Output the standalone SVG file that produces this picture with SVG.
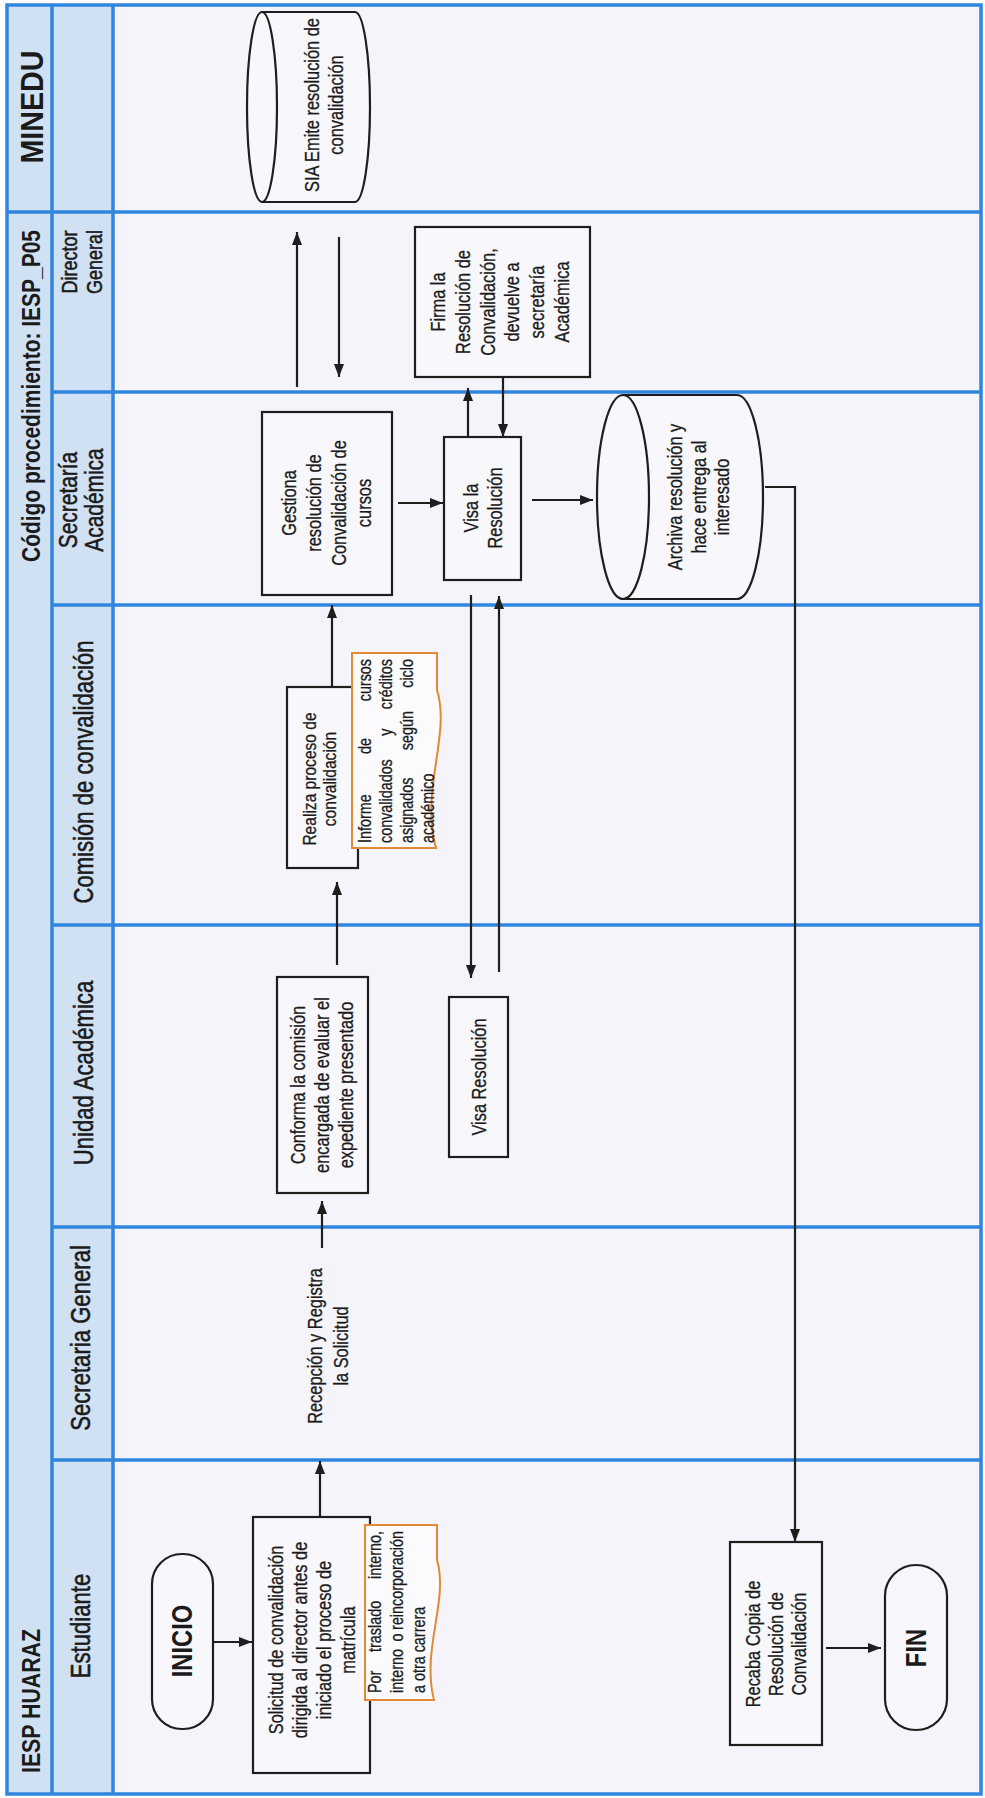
<svg xmlns="http://www.w3.org/2000/svg" width="985" height="1798" viewBox="0 0 985 1798">
<defs>
<marker id="ah" markerWidth="13" markerHeight="10" refX="13" refY="5" orient="auto" markerUnits="userSpaceOnUse">
<path d="M0,0 L13,5 L0,10 Z" fill="#1e1e1e"/>
</marker>
<style>
.t{font-family:'Liberation Sans',Arial,sans-serif;fill:#1b1b1b;text-anchor:middle;stroke:#1b1b1b;stroke-width:0.3}
.hd{stroke-width:0.55}
.n{font-size:20px}
.d{font-size:17.5px}
.b{font-weight:bold;stroke-width:0}
.box{fill:#f8f8fc;stroke:#1e1e1e;stroke-width:2.2}
.doc{fill:#fbfbfd;stroke:#e08a35;stroke-width:2}
.ln{fill:none;stroke:#1e1e1e;stroke-width:2.2}
.grid{fill:none;stroke:#2e86de;stroke-width:3.5}
</style>
</defs>
<rect x="0" y="0" width="985" height="1798" fill="#ffffff"/>
<g id="lanes">
<rect x="7" y="5" width="974" height="1789" fill="#f4f4fa"/>
<rect x="7" y="5" width="106" height="1789" fill="#d1e1f4"/>
<path class="grid" d="M7,212 H981 M52,392 H981 M52,605 H981 M52,925 H981 M52,1227 H981 M52,1460 H981 M52,5 V1794 M113,5 V1794"/>
<rect class="grid" x="7" y="5" width="974" height="1789"/>
<text class="t b" font-size="32" transform="rotate(-90)" x="-107" y="43" textLength="113" lengthAdjust="spacingAndGlyphs">MINEDU</text>
<text class="t b" font-size="26" transform="rotate(-90)" x="-396" y="40" textLength="332" lengthAdjust="spacingAndGlyphs">Código procedimiento: IESP_P05</text>
<text class="t b" font-size="26" transform="rotate(-90)" x="-1701" y="40" textLength="144" lengthAdjust="spacingAndGlyphs">IESP HUARAZ</text>
<text class="t hd" font-size="22" transform="translate(0,262) rotate(-90) scale(0.82,1)"><tspan x="0" y="77">Director</tspan><tspan x="0" y="102">General</tspan></text>
<text class="t hd" font-size="25.5" transform="translate(0,500) rotate(-90) scale(0.82,1)"><tspan x="0" y="77">Secretaría</tspan><tspan x="0" y="103">Académica</tspan></text>
<text class="t hd" font-size="27" transform="translate(0,772) rotate(-90) scale(0.82,1)" x="0" y="93">Comisión de convalidación</text>
<text class="t hd" font-size="27" transform="translate(0,1073) rotate(-90) scale(0.82,1)" x="0" y="93">Unidad Académica</text>
<text class="t hd" font-size="27" transform="translate(0,1338) rotate(-90) scale(0.82,1)" x="0" y="90">Secretaria General</text>
<text class="t hd" font-size="27" transform="translate(0,1626) rotate(-90) scale(0.82,1)" x="0" y="90">Estudiante</text>
</g>
<g id="connectors">
<line class="ln" x1="297" y1="387" x2="297" y2="232" marker-end="url(#ah)"/>
<line class="ln" x1="339" y1="237" x2="339" y2="377" marker-end="url(#ah)"/>
<line class="ln" x1="398" y1="503" x2="443" y2="503" marker-end="url(#ah)"/>
<line class="ln" x1="468" y1="437" x2="468" y2="388" marker-end="url(#ah)"/>
<line class="ln" x1="503" y1="377" x2="503" y2="437" marker-end="url(#ah)"/>
<line class="ln" x1="532" y1="500" x2="593" y2="500" marker-end="url(#ah)"/>
<polyline class="ln" points="765,487 795,487 795,1542" marker-end="url(#ah)"/>
<line class="ln" x1="332" y1="687" x2="332" y2="605" marker-end="url(#ah)"/>
<line class="ln" x1="471" y1="595" x2="471" y2="978" marker-end="url(#ah)"/>
<line class="ln" x1="499" y1="972" x2="499" y2="596" marker-end="url(#ah)"/>
<line class="ln" x1="337" y1="965" x2="337" y2="882" marker-end="url(#ah)"/>
<line class="ln" x1="322" y1="1248" x2="322" y2="1201" marker-end="url(#ah)"/>
<line class="ln" x1="320" y1="1517" x2="320" y2="1461" marker-end="url(#ah)"/>
<line class="ln" x1="213" y1="1642" x2="252" y2="1642" marker-end="url(#ah)"/>
<line class="ln" x1="826" y1="1648" x2="881" y2="1648" marker-end="url(#ah)"/>
</g>
<g id="sia">
<path class="box" d="M262,12 H355 A15,95 0 0 1 355,202 H262 Z"/>
<ellipse class="box" cx="262" cy="107" rx="15" ry="95"/>
<text class="t n" transform="translate(0,105) rotate(-90) scale(0.82,1)"><tspan x="0" y="319">SIA Emite resolución de</tspan><tspan x="0" y="343">convalidación</tspan></text>
</g>
<g id="firma">
<rect class="box" x="415" y="227" width="175" height="150"/>
<text class="t n" transform="translate(0,302) rotate(-90) scale(0.82,1)"><tspan x="0" y="445">Firma la</tspan><tspan x="0" y="470">Resolución de</tspan><tspan x="0" y="495">Convalidación,</tspan><tspan x="0" y="519">devuelve a</tspan><tspan x="0" y="544">secretaría</tspan><tspan x="0" y="569">Académica</tspan></text>
</g>
<g id="gestiona">
<rect class="box" x="262" y="412" width="130" height="183"/>
<text class="t n" transform="translate(0,503) rotate(-90) scale(0.82,1)"><tspan x="0" y="296">Gestiona</tspan><tspan x="0" y="321">resolución de</tspan><tspan x="0" y="346">Convalidación de</tspan><tspan x="0" y="371">cursos</tspan></text>
</g>
<g id="visa-sa">
<rect class="box" x="444" y="437" width="77" height="143"/>
<text class="t n" transform="translate(0,508) rotate(-90) scale(0.82,1)"><tspan x="0" y="478">Visa la</tspan><tspan x="0" y="502">Resolución</tspan></text>
</g>
<g id="archiva">
<path class="box" d="M623,395 H737 A26,102 0 0 1 737,599 H623 Z"/>
<ellipse class="box" cx="623" cy="497" rx="26" ry="102"/>
<text class="t n" transform="translate(0,497) rotate(-90) scale(0.82,1)"><tspan x="0" y="682">Archiva resolución y</tspan><tspan x="0" y="706">hace entrega al</tspan><tspan x="0" y="729">interesado</tspan></text>
</g>
<g id="realiza">
<rect class="box" x="287" y="687" width="71" height="181"/>
<text class="t" font-size="19" transform="translate(0,779) rotate(-90) scale(0.82,1)"><tspan x="0" y="316">Realiza proceso de</tspan><tspan x="0" y="336">convalidación</tspan></text>
</g>
<g id="informe">
<path class="doc" d="M352,653 H437 V690 C451,735 420,790 436,848 H352 Z"/>
<text class="t d" transform="translate(0,749) rotate(-90) scale(0.82,1)">
<tspan x="-114.6" y="371" text-anchor="start">Informe</tspan><tspan x="3.7" y="371">de</tspan><tspan x="114.6" y="371" text-anchor="end">cursos</tspan>
<tspan x="-114.6" y="392" text-anchor="start">convalidados</tspan><tspan x="20.4" y="392">y</tspan><tspan x="114.6" y="392" text-anchor="end">créditos</tspan>
<tspan x="-114.6" y="413" text-anchor="start">asignados</tspan><tspan x="22.4" y="413">según</tspan><tspan x="114.6" y="413" text-anchor="end">ciclo</tspan>
<tspan x="-114.6" y="434" text-anchor="start">académico</tspan>
</text>
</g>
<g id="visa-ua">
<rect class="box" x="449" y="997" width="59" height="160"/>
<text class="t n" transform="translate(0,1077) rotate(-90) scale(0.82,1)" x="0" y="486">Visa Resolución</text>
</g>
<g id="conforma">
<rect class="box" x="277" y="977" width="91" height="216"/>
<text class="t n" transform="translate(0,1085) rotate(-90) scale(0.82,1)"><tspan x="0" y="305">Conforma la comisión</tspan><tspan x="0" y="329">encargada de evaluar el</tspan><tspan x="0" y="353">expediente presentado</tspan></text>
</g>
<g id="recepcion">
<text class="t n" transform="translate(0,1346) rotate(-90) scale(0.82,1)"><tspan x="0" y="322">Recepción y Registra</tspan><tspan x="0" y="348">la Solicitud</tspan></text>
</g>
<g id="inicio">
<rect class="box" x="152" y="1554" width="61" height="175" rx="30" ry="30"/>
<text class="t b" font-size="29" transform="translate(0,1641) rotate(-90) scale(0.82,1)" x="0" y="192">INICIO</text>
</g>
<g id="solicitud">
<rect class="box" x="253" y="1517" width="117" height="256"/>
<text class="t n" transform="translate(0,1640) rotate(-90) scale(0.82,1)"><tspan x="0" y="283">Solicitud de convalidación</tspan><tspan x="0" y="307">dirigida al director antes de</tspan><tspan x="0" y="331">iniciado el proceso de</tspan><tspan x="0" y="355">matrícula</tspan></text>
</g>
<g id="traslado">
<path class="doc" d="M365,1525 H437 V1560 C449,1600 421,1650 434,1700 H365 Z"/>
<text class="t d" transform="translate(0,1610) rotate(-90) scale(0.82,1)">
<tspan x="-101.2" y="381" text-anchor="start">Por</tspan><tspan x="-20" y="381">traslado</tspan><tspan x="101.2" y="381" text-anchor="end">interno,</tspan>
<tspan x="-101.2" y="403" text-anchor="start">interno</tspan><tspan x="-33.5" y="403">o</tspan><tspan x="101.2" y="403" text-anchor="end">reincorporación</tspan>
<tspan x="-101.2" y="425" text-anchor="start">a otra carrera</tspan>
</text>
</g>
<g id="recaba">
<rect class="box" x="730" y="1542" width="92" height="203"/>
<text class="t n" transform="translate(0,1644) rotate(-90) scale(0.82,1)"><tspan x="0" y="760">Recaba Copia de</tspan><tspan x="0" y="783">Resolución de</tspan><tspan x="0" y="806">Convalidación</tspan></text>
</g>
<g id="fin">
<rect class="box" x="885" y="1565" width="62" height="165" rx="31" ry="31"/>
<text class="t b" font-size="29" transform="translate(0,1648) rotate(-90) scale(0.82,1)" x="0" y="926">FIN</text>
</g>
</svg>
